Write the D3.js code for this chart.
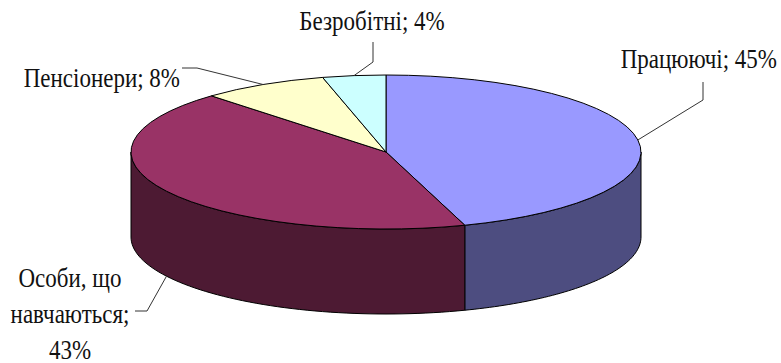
<!DOCTYPE html>
<html>
<head>
<meta charset="utf-8">
<script src="https://cdn.jsdelivr.net/npm/d3@7"></script>
<style>
  body { margin: 0; background: #fff; }
  svg { display: block; }
</style>
</head>
<body>
<div id="chart"></div>
<script>
// data (shares of respondents, %)
var categories = ["Працюючі", "Особи, що навчаються", "Пенсіонери", "Безробітні"];
var values = [45, 43, 8, 4];
var labelLines = [
  ["Працюючі; 45%"],
  ["Особи, що", "навчаються;", "43%"],
  ["Пенсіонери; 8%"],
  ["Безробітні; 4%"]
];
var topColors = ["#9999ff", "#993366", "#ffffcc", "#ccffff"];
var sideColors = ["#4d4d80", "#4d1a33", "#80805f", "#5f8080"];

var width = 781, height = 363;

// ellipse geometry of the 3d pie
var cx = 386, cy = 152, rx = 255, ry = 77, depth = 85;

var svg = d3.select("#chart")
  .append("svg")
  .attr("width", width)
  .attr("height", height);

var pie = d3.pie().sort(null).value(d => d);
var arcs = pie(values);

// point on the top ellipse for angle a (0 = 12 o'clock, clockwise)
function px(a) { return cx + rx * Math.sin(a); }
function py(a) { return cy - ry * Math.cos(a); }

// side walls: only the front half (pi/2 .. 3pi/2) is visible
var sides = svg.append("g");
arcs.forEach(function(d, i) {
  var s = Math.max(d.startAngle, Math.PI / 2);
  var e = Math.min(d.endAngle, 3 * Math.PI / 2);
  if (s >= e) return;
  var n = 60;
  var angs = d3.range(n + 1).map(k => s + (e - s) * k / n);
  var pts = angs.map(a => [px(a), py(a)])
    .concat(angs.slice().reverse().map(a => [px(a), py(a) + depth]));
  sides.append("path")
    .attr("d", d3.line()(pts) + "Z")
    .attr("fill", sideColors[i])
    .attr("stroke", "#000")
    .attr("stroke-width", 1)
    .attr("stroke-linejoin", "round");
});

// top face: a normal d3 arc squashed into an ellipse
var arc = d3.arc().innerRadius(0).outerRadius(rx);
svg.append("g")
  .attr("transform", "translate(" + cx + "," + cy + ") scale(1," + (ry / rx) + ")")
  .selectAll("path")
  .data(arcs)
  .enter()
  .append("path")
  .attr("d", arc)
  .attr("fill", (d, i) => topColors[i])
  .attr("stroke", "#000")
  .attr("stroke-width", 1)
  .attr("vector-effect", "non-scaling-stroke")
  .attr("stroke-linejoin", "round");

// label layout: text position, anchor, and leader elbow (from pie side outwards)
var layout = [
  { x: 777, y: 68, anchor: "end", elbow: [[703, 100], [703, 82]] },
  { x: 70, y: 287, anchor: "middle", elbow: [[147, 311], [135, 311]] },
  { x: 180, y: 87, anchor: "end", elbow: [[197, 68], [182, 68]] },
  { x: 372, y: 30, anchor: "middle", elbow: [[373, 62], [373, 42]] }
];

arcs.forEach(function(d, i) {
  var mid = (d.startAngle + d.endAngle) / 2;
  var front = Math.cos(mid) < 0;
  var tip = [px(mid), py(mid) + (front ? depth : 0)];
  var L = layout[i];

  // leader from pie edge to the label
  svg.append("path")
    .attr("d", d3.line()([tip].concat(L.elbow)))
    .attr("fill", "none")
    .attr("stroke", "#333")
    .attr("stroke-width", 1);

  labelLines[i].forEach(function(t, j) {
    svg.append("text")
      .attr("transform", "translate(" + L.x + "," + (L.y + j * 36) + ") scale(1,1.18)")
      .attr("text-anchor", L.anchor)
      .attr("font-family", "Liberation Serif")
      .attr("font-size", 23)
      .attr("fill", "#111")
      .text(t);
  });
});
</script>
</body>
</html>
